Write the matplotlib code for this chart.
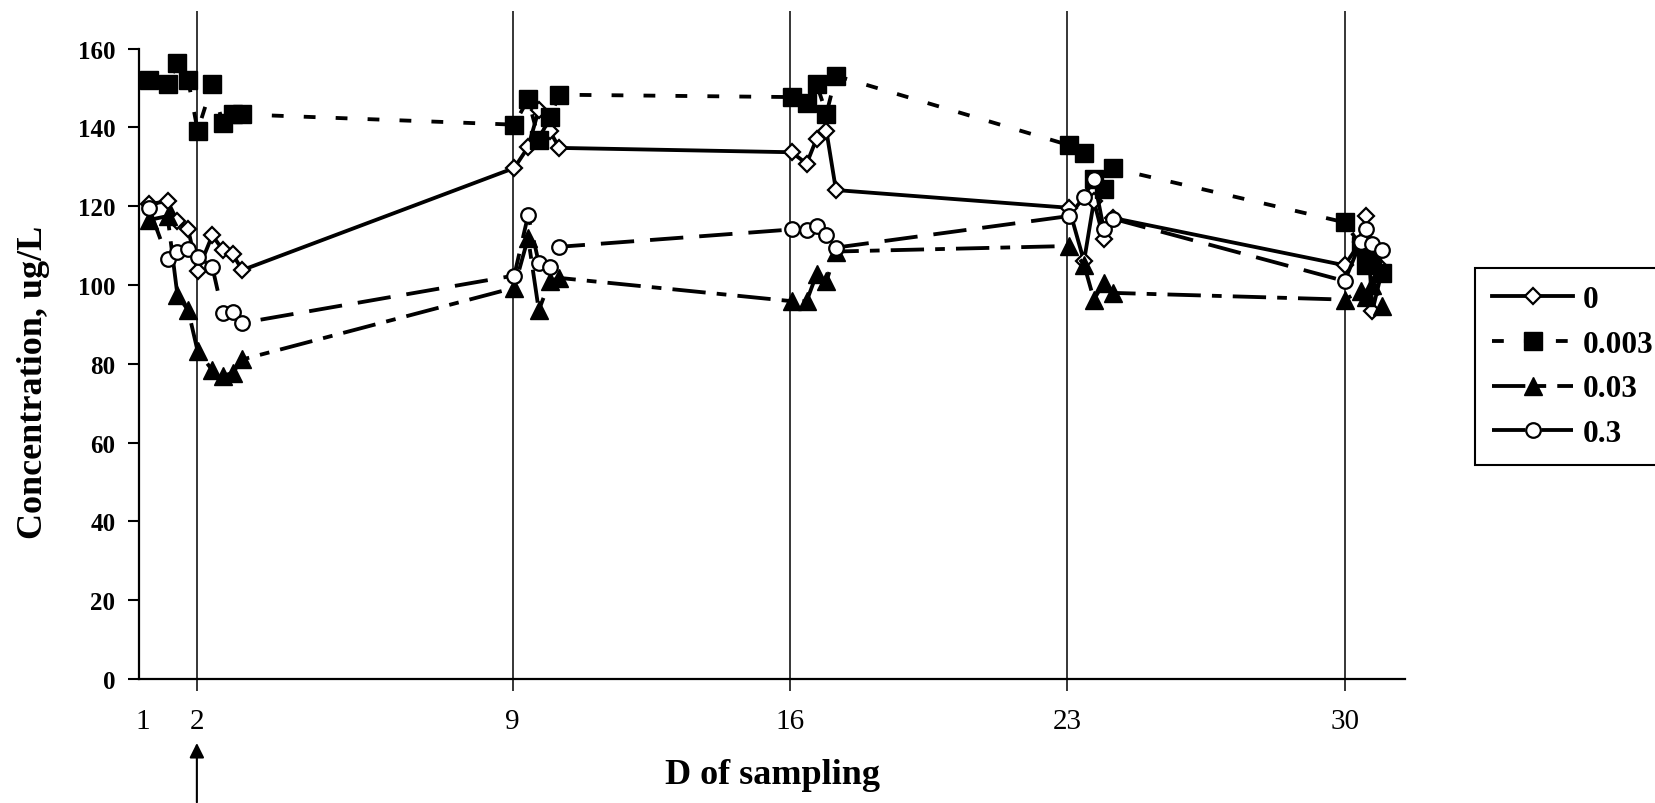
import matplotlib.pyplot as plt

plt.rcParams['font.family'] = ['Liberation Serif', 'DejaVu Serif']
plt.rcParams['lines.scale_dashes'] = False

# sampling times in days; each sampling day has a short burst of samples
sample_days = [-0.18, 0.29, 0.54, 0.81, 1.05, 1.42, 1.68, 1.93, 2.18,
               9.04, 9.39, 9.66, 9.94, 10.18,
               16.04, 16.42, 16.67, 16.92, 17.16,
               23.04, 23.42, 23.67, 23.92, 24.16,
               30.0, 30.4, 30.55, 30.7, 30.95]

conc_0 = [120.5, 121.3, 116.2, 114.1, 103.5, 112.6, 109.0, 107.8, 103.8,
          129.7, 135.0, 144.5, 139.0, 134.8,
          133.7, 130.8, 137.1, 139.0, 124.1,
          119.6, 106.0, 121.3, 111.6, 117.0,
          105.0, 111.0, 117.5, 93.5, 104.0]
conc_0003 = [152.1, 150.9, 156.4, 152.0, 139.2, 150.9, 141.1, 143.3, 143.3,
             140.7, 147.2, 136.9, 142.7, 148.3,
             147.7, 146.2, 151.0, 143.5, 153.1,
             135.5, 133.5, 127.0, 124.4, 129.6,
             115.9, 110.0, 105.2, 106.0, 103.1]
conc_003 = [116.5, 117.5, 97.4, 93.6, 83.2, 78.4, 76.9, 77.7, 81.1,
            99.3, 112.0, 93.6, 101.0, 101.8,
            95.9, 95.9, 102.7, 101.0, 108.5,
            109.9, 105.2, 96.3, 100.6, 98.0,
            96.3, 98.5, 97.0, 100.0, 94.7]
conc_03 = [119.6, 106.7, 108.4, 109.2, 107.2, 104.6, 93.0, 93.1, 90.4,
           102.4, 117.7, 105.6, 104.6, 109.7,
           114.1, 113.9, 115.1, 112.8, 109.5,
           117.5, 122.3, 126.9, 114.2, 116.8,
           101.0, 110.9, 114.3, 110.3, 108.8]
series_labels = ['0', '0.003', '0.03', '0.3']

# day labels on the x axis and the days marked by vertical lines
tick_days = [-0.33, 1.03, 9, 16, 23, 30]
tick_labels = ['1', '2', '9', '16', '23', '30']
marker_days = [1.03, 9, 16, 23, 30]

fig = plt.figure(figsize=(16.55, 8.04), dpi=100)
ax = fig.add_axes([0.084, 0.1542, 0.7649, 0.7841])

lw = 2.75
ax.plot(sample_days, conc_0, color='black', lw=lw, ls='-',
        marker='D', ms=8.5, mfc='white', mec='black', mew=1.6,
        label=series_labels[0])
ax.plot(sample_days, conc_0003, color='black', lw=lw, dashes=(8.5, 14.5),
        marker='s', ms=12.5, mfc='black', mec='black', mew=1,
        label=series_labels[1])
ax.plot(sample_days, conc_003, color='black', lw=lw,
        dashes=(24, 8, 7, 8),
        marker='^', ms=12.5, mfc='black', mec='black', mew=1,
        label=series_labels[2])
ax.plot(sample_days, conc_03, color='black', lw=lw, dashes=(24, 11.5),
        marker='o', ms=10.5, mfc='white', mec='black', mew=1.6,
        label=series_labels[3])

# vertical markers for the sampling days, running past the axes
ax.vlines(marker_days, -3, 169.5, colors='black', lw=1.1, clip_on=False,
          zorder=0)

ax.set_xlim(-0.43, 31.52)
ax.set_ylim(0, 160)
ax.set_yticks(range(0, 161, 20))
ax.set_xticks(tick_days)
ax.set_xticklabels(tick_labels, fontsize=21)
ax.tick_params(axis='x', length=0, pad=21)
ax.tick_params(axis='y', length=8, width=1.5, direction='out', pad=9,
               labelsize=18)
for lab in ax.get_yticklabels():
    lab.set_fontweight('bold')

for side in ['top', 'right']:
    ax.spines[side].set_visible(False)
for side in ['left', 'bottom']:
    ax.spines[side].set_linewidth(1.6)

ax.set_ylabel('Concentration, ug/L', fontsize=26, fontweight='bold')
ax.yaxis.set_label_coords(-0.07, 0.472)
ax.set_xlabel('D of sampling', fontsize=26, fontweight='bold')
ax.xaxis.set_label_coords(0.5004, -0.126)

# arrow under day 2
ax.annotate('', xy=(1.03, -0.097), xycoords=('data', 'axes fraction'),
            xytext=(1.03, -0.2), textcoords=('data', 'axes fraction'),
            arrowprops=dict(arrowstyle='-|>', color='black', lw=1.5,
                            mutation_scale=22),
            annotation_clip=False)

leg = ax.legend(loc='upper left', bbox_to_anchor=(0.8912, 0.6654),
                bbox_transform=fig.transFigure, borderaxespad=0,
                prop={'weight': 'bold', 'size': 22.5},
                handlelength=2.6, handletextpad=0.3, borderpad=0.55,
                labelspacing=0.5, numpoints=1, fancybox=False,
                framealpha=1, edgecolor='black')
leg.get_frame().set_linewidth(1.5)

fig.savefig('out.png', dpi=100)
